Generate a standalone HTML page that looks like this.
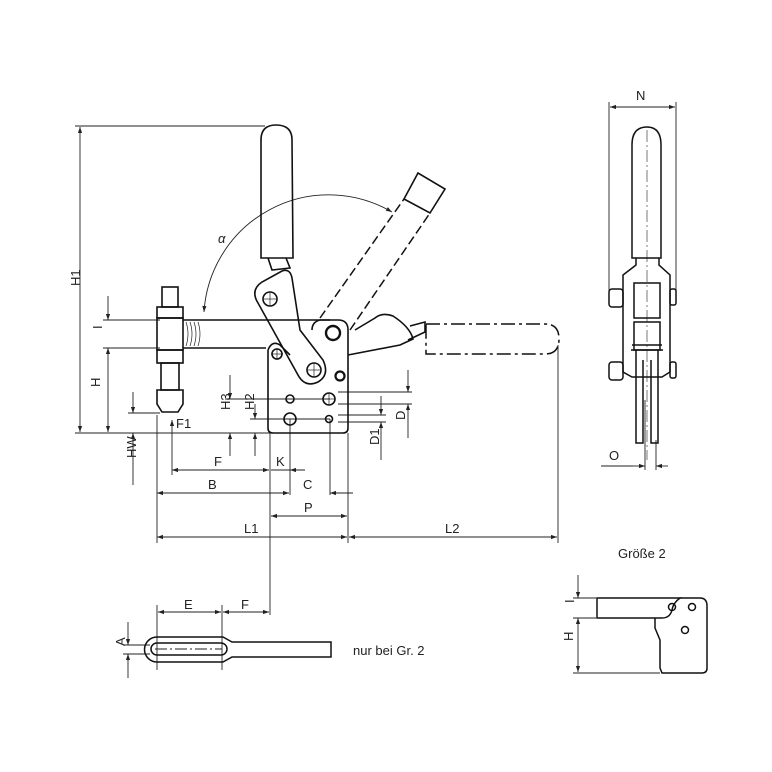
<!DOCTYPE html>
<html><head><meta charset="utf-8"><style>
html,body{margin:0;padding:0;background:#fff}
svg{display:block}
text{font-family:"Liberation Sans",sans-serif;font-size:13px;fill:#222}
</style></head><body>
<svg width="772" height="772" viewBox="0 0 772 772" xmlns="http://www.w3.org/2000/svg">
<defs>
<marker id="a" viewBox="0 0 10 10" refX="10" refY="5" markerWidth="10" markerHeight="6" orient="auto-start-reverse" markerUnits="userSpaceOnUse"><path d="M0,1.5 L10,5 L0,8.5z" fill="#222"/></marker>
</defs>
<g stroke="#222" fill="none" stroke-width="0.9">
<line x1="75" y1="126" x2="265" y2="126"/>
<line x1="75" y1="433" x2="270" y2="433"/>
<line x1="80" y1="127" x2="80" y2="432" marker-start="url(#a)" marker-end="url(#a)"/>
<line x1="103" y1="320" x2="160" y2="320"/>
<line x1="103" y1="348" x2="160" y2="348"/>
<line x1="108" y1="296" x2="108" y2="320" marker-end="url(#a)"/>
<line x1="108" y1="348" x2="108" y2="432" marker-start="url(#a)" marker-end="url(#a)"/>
<line x1="128" y1="413" x2="160" y2="413"/>
<line x1="133" y1="392" x2="133" y2="413" marker-end="url(#a)"/>
<line x1="133" y1="433" x2="133" y2="485" marker-start="url(#a)"/>
<line x1="172" y1="420" x2="172" y2="475" marker-start="url(#a)"/>
<line x1="225" y1="399" x2="330" y2="399"/>
<line x1="250" y1="419" x2="330" y2="419"/>
<line x1="230" y1="375" x2="230" y2="399" marker-end="url(#a)"/>
<line x1="230" y1="433" x2="230" y2="456" marker-start="url(#a)"/>
<line x1="255" y1="404" x2="255" y2="419" marker-end="url(#a)"/>
<line x1="255" y1="433" x2="255" y2="456" marker-start="url(#a)"/>
<line x1="338" y1="392" x2="412" y2="392"/>
<line x1="338" y1="404" x2="412" y2="404"/>
<line x1="338" y1="415" x2="386" y2="415"/>
<line x1="338" y1="422" x2="386" y2="422"/>
<line x1="408" y1="370" x2="408" y2="392" marker-end="url(#a)"/>
<line x1="408" y1="404" x2="408" y2="438" marker-start="url(#a)"/>
<line x1="381" y1="396" x2="381" y2="415" marker-end="url(#a)"/>
<line x1="381" y1="422" x2="381" y2="460" marker-start="url(#a)"/>
<line x1="157" y1="415" x2="157" y2="543"/>
<line x1="270" y1="433" x2="270" y2="595"/>
<line x1="290" y1="419" x2="290" y2="495"/>
<line x1="330" y1="419" x2="330" y2="495"/>
<line x1="348" y1="433" x2="348" y2="543"/>
<line x1="558" y1="345" x2="558" y2="543"/>
<line x1="172" y1="470" x2="269" y2="470" marker-start="url(#a)" marker-end="url(#a)"/>
<line x1="271" y1="470" x2="305" y2="470"/>
<line x1="290" y1="470" x2="305" y2="470" marker-start="url(#a)"/>
<line x1="157" y1="493" x2="289" y2="493" marker-start="url(#a)" marker-end="url(#a)"/>
<line x1="330" y1="493" x2="353" y2="493" marker-start="url(#a)"/>
<line x1="271" y1="516" x2="347" y2="516" marker-start="url(#a)" marker-end="url(#a)"/>
<line x1="157" y1="537" x2="347" y2="537" marker-start="url(#a)" marker-end="url(#a)"/>
<line x1="349" y1="537" x2="557" y2="537" marker-start="url(#a)" marker-end="url(#a)"/>
<path d="M204,312 A125,125 0 0 1 392,212" marker-start="url(#a)" marker-end="url(#a)"/>
</g>
<g stroke="#111" fill="none" stroke-width="1.6">
<path d="M261,258 L261,140 Q261,125 276,125 Q292,125 292,140 L293,258 Z"/>
<path d="M268,258 L272,270 L290,268 L286,258"/>
<rect x="162" y="287" width="16" height="20"/>
<rect x="157" y="307" width="26" height="11"/>
<rect x="157" y="318" width="26" height="32"/>
<rect x="157" y="350" width="26" height="13"/>
<rect x="161" y="363" width="18" height="27"/>
<path d="M157,390 L183,390 L183,404 L178,412 L162,412 L157,404 Z"/>
<line x1="183" y1="320" x2="330" y2="320"/>
<line x1="183" y1="348" x2="266" y2="348"/>
<path d="M268,350 Q272,340 280,345 L290,355 M268,350 L268,428 Q268,433 273,433 L343,433 Q348,433 348,428 L348,330 Q348,320 338,320 L320,320 Q312,322 312,330"/>
<path d="M258,303 Q250,290 262,282 L282,271 Q290,268 292,278 L300,330 L323,360 Q330,375 318,382 Q305,388 298,375 Z"/>
<circle cx="270" cy="299" r="7"/>
<circle cx="314" cy="370" r="7"/>
<circle cx="333" cy="333" r="7" stroke-width="2.4"/>
<circle cx="340" cy="376" r="4.5" stroke-width="2.2"/>
<circle cx="277" cy="354" r="5"/>
<circle cx="290" cy="399" r="4"/>
<circle cx="329" cy="399" r="6"/>
<circle cx="290" cy="419" r="6"/>
<circle cx="329" cy="419" r="3.5"/>
<path d="M348,355 L400,345 L413,339 Q410,327 393,316 Q382,312 375,318 L355,330"/>
<path d="M408,340 L425,332 L425,322 L410,326"/>
<path d="M404,199 L418,173 L445,189 L430,213 Z"/>
</g>
<g stroke="#222" stroke-width="0.7" fill="none">
<line x1="270" y1="292" x2="270" y2="306"/><line x1="263" y1="299" x2="277" y2="299"/>
<line x1="314" y1="363" x2="314" y2="377"/><line x1="307" y1="370" x2="321" y2="370"/>
<line x1="329" y1="393" x2="329" y2="405"/><line x1="323" y1="399" x2="335" y2="399"/>
<line x1="277" y1="348" x2="277" y2="360"/><line x1="271" y1="354" x2="283" y2="354"/>
<path d="M186,322 Q190,334 186,346 M190,322 Q194,334 190,346 M194,322 Q198,334 194,346 M198,322 Q202,334 198,346"/>
</g>
<g stroke="#111" fill="none" stroke-width="1.5" stroke-dasharray="9,4">
<line x1="320" y1="318" x2="404" y2="199"/>
<line x1="350" y1="330" x2="430" y2="213"/>
<path d="M426,324 L545,324 Q559,324 559,339 Q559,354 545,354 L426,354 Z" stroke-dasharray="14,4,3,4"/>
</g>
<g stroke="#222" fill="none" stroke-width="0.9">
<line x1="609" y1="102" x2="609" y2="298"/>
<line x1="676" y1="102" x2="676" y2="298"/>
<line x1="610" y1="107" x2="675" y2="107" marker-start="url(#a)" marker-end="url(#a)"/>
<line x1="601" y1="466" x2="633" y2="466"/>
<line x1="633" y1="466" x2="645" y2="466" marker-end="url(#a)"/>
<line x1="668" y1="466" x2="656" y2="466" marker-end="url(#a)"/>
<line x1="645" y1="400" x2="645" y2="470"/>
<line x1="656" y1="440" x2="656" y2="470"/>
<line x1="647" y1="130" x2="647" y2="460" stroke-dasharray="12,3,2,3" stroke-width="0.6"/>
</g>
<g stroke="#111" fill="none" stroke-width="1.5">
<path d="M632,258 L632,145 Q632,127 647,127 Q661,127 661,145 L661,258 Z"/>
<path d="M636,258 L636,265 L623,275 L623,372 L632,377 L662,377 L670,372 L670,275 L659,265 L659,258"/>
<rect x="634" y="283" width="26" height="35"/>
<rect x="634" y="322" width="26" height="28"/>
<path d="M636,350 L636,443 L643,443 L643,360 M651,360 L651,443 L658,443 L658,350"/>
<rect x="609" y="289" width="14" height="18" rx="3"/>
<rect x="609" y="362" width="14" height="18" rx="3"/>
<rect x="670" y="289" width="6" height="16" rx="2"/>
<rect x="670" y="362" width="6" height="16" rx="2"/>
<path d="M632,345 L662,345 M631,350 L663,350"/>
</g>
<g stroke="#222" fill="none" stroke-width="0.9">
<line x1="157" y1="605" x2="157" y2="670"/>
<line x1="222" y1="605" x2="222" y2="670"/>
<line x1="270" y1="595" x2="270" y2="615"/>
<line x1="158" y1="612" x2="221" y2="612" marker-start="url(#a)" marker-end="url(#a)"/>
<line x1="223" y1="612" x2="269" y2="612" marker-start="url(#a)" marker-end="url(#a)"/>
<line x1="123" y1="645" x2="150" y2="645"/>
<line x1="123" y1="654" x2="150" y2="654"/>
<line x1="128" y1="622" x2="128" y2="645" marker-end="url(#a)"/>
<line x1="128" y1="654" x2="128" y2="678" marker-start="url(#a)"/>
<line x1="155" y1="649" x2="222" y2="649" stroke-dasharray="12,3,2,3"/>
</g>
<g stroke="#111" fill="none" stroke-width="1.5">
<path d="M157,637 L223,637 L232,642 L331,642 L331,657 L232,657 L223,662 L157,662 A12.5,12.5 0 0 1 157,637 Z"/>
<path d="M157,643 L221,643 A6,6 0 0 1 221,655 L157,655 A6,6 0 0 1 157,643 Z"/>
</g>
<g stroke="#222" fill="none" stroke-width="0.9">
<line x1="573" y1="598" x2="596" y2="598"/>
<line x1="573" y1="618" x2="596" y2="618"/>
<line x1="573" y1="673" x2="660" y2="673"/>
<line x1="578" y1="575" x2="578" y2="598" marker-end="url(#a)"/>
<line x1="578" y1="618" x2="578" y2="672" marker-start="url(#a)" marker-end="url(#a)"/>
</g>
<g stroke="#111" fill="none" stroke-width="1.5">
<path d="M597,598 L680,598 Q673,603 672,610 Q670,618 662,618 L597,618 Z"/>
<path d="M680,598 L700,598 Q707,598 707,606 L707,668 Q707,673 702,673 L662,673 L660,668 L660,640 L655,628 L655,618"/>
<circle cx="672" cy="607" r="3.5"/>
<circle cx="692" cy="607" r="3.5"/>
<circle cx="685" cy="630" r="3.5"/>
</g>
<text x="74" y="292" transform="rotate(-90 74 286)" font-size="14">H1</text>
<text x="103" y="336" transform="rotate(-90 99 333)">I</text>
<text x="101" y="396" transform="rotate(-90 96 392)">H</text>
<text x="134" y="476" transform="rotate(-90 126 466)">HW</text>
<text x="176" y="428">F1</text>
<text x="227" y="423" transform="rotate(-90 222 415)">H3</text>
<text x="251" y="423" transform="rotate(-90 246 415)">H2</text>
<text x="377" y="457" transform="rotate(-90 372 450)">D1</text>
<text x="405" y="430" transform="rotate(-90 400 425)">D</text>
<text x="214" y="466">F</text>
<text x="276" y="466">K</text>
<text x="208" y="489">B</text>
<text x="303" y="489">C</text>
<text x="304" y="512">P</text>
<text x="244" y="533">L1</text>
<text x="445" y="533">L2</text>
<text x="218" y="243" font-size="20" font-family="Liberation Serif" font-style="italic">α</text>
<text x="636" y="100">N</text>
<text x="609" y="460">O</text>
<text x="184" y="609">E</text>
<text x="241" y="609">F</text>
<text x="124" y="655" transform="rotate(-90 120 650)">A</text>
<text x="353" y="655" font-size="14">nur bei Gr. 2</text>
<text x="618" y="558" font-size="14">Größe 2</text>
<text x="575" y="612" transform="rotate(-90 570 608)">I</text>
<text x="573" y="651" transform="rotate(-90 568 646)">H</text>
</svg>
</body></html>
